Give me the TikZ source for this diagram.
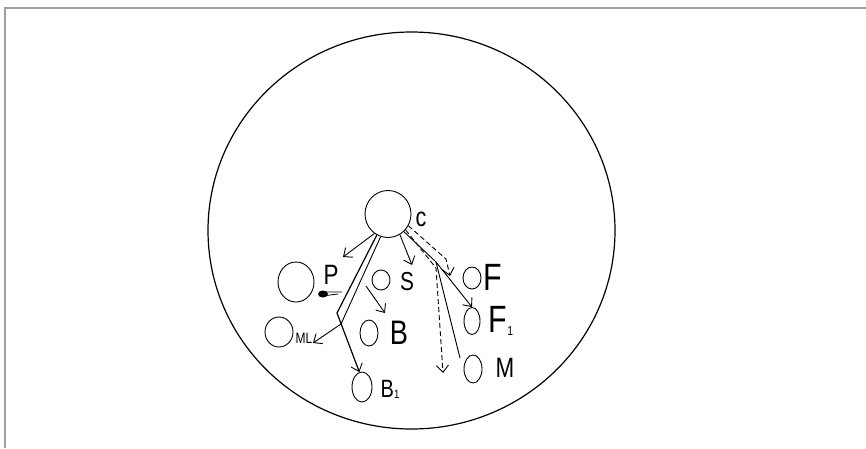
\documentclass[tikz,border=0pt]{standalone}
\usepackage{fontspec}
\setsansfont{Liberation Sans}
\usetikzlibrary{arrows.meta,shapes.geometric}
\tikzset{
  ent/.style={draw, ellipse, line width=0.9pt, inner sep=0pt},
  lab/.style={font=\sffamily, inner sep=0pt, anchor=center, xscale=0.8},
  arr/.style={line width=0.9pt, line join=round, -{Straight Barb[length=7pt,width=12pt,line width=0.9pt]}},
  darr/.style={arr, dashed, dash pattern=on 5pt off 3pt},
  plain/.style={line width=0.9pt},
}
\begin{document}
\begin{tikzpicture}[x=1pt,y=-1pt]
\useasboundingbox (0,0) rectangle (866,448);
% frame
\draw[gray!75, line width=1.3pt] (5,448) -- (5,8) -- (866,8);
% big ellipse
\node[draw, ellipse, line width=1.2pt, minimum width=407pt, minimum height=397pt, inner sep=0pt] (world) at (411.5,230.5) {};
% entities
\node[ent, minimum width=46pt, minimum height=47pt] (c) at (388,214) {};
\node[ent, minimum width=36pt, minimum height=40pt] (P) at (296,282) {};
\node[ent, minimum width=28pt, minimum height=30pt] (ML) at (279,332) {};
\node[ent, minimum width=18pt, minimum height=20pt] (S) at (381,280) {};
\node[ent, minimum width=18pt, minimum height=26pt] (B) at (369,333) {};
\node[ent, minimum width=20pt, minimum height=30pt] (B1) at (362,387) {};
\node[ent, minimum width=18pt, minimum height=22pt] (F) at (472,278) {};
\node[ent, minimum width=16pt, minimum height=27pt] (F1) at (472,321) {};
\node[ent, minimum width=18pt, minimum height=28pt] (M) at (473,369) {};
% labels
\node[lab, font=\sffamily\fontsize{27}{27}\selectfont] (lc) at (421,219) {c};
\node[lab, font=\sffamily\fontsize{28}{28}\selectfont] (lP) at (331,275) {P};
\node[lab, font=\sffamily\fontsize{26}{26}\selectfont] (lS) at (407,282) {S};
\node[lab, font=\sffamily\fontsize{38}{38}\selectfont] (lF) at (493,277) {F};
\node[lab, font=\sffamily\fontsize{34}{34}\selectfont] (lB) at (399,333) {B};
\node[lab, font=\sffamily\fontsize{38}{38}\selectfont] (lF1) at (501,321) {F\raisebox{-3pt}{\fontsize{13}{13}\selectfont 1}};
\node[lab, font=\sffamily\fontsize{28}{28}\selectfont] (lM) at (505,368) {M};
\node[lab, font=\sffamily\fontsize{25}{25}\selectfont] (lB1) at (390,389) {B\raisebox{-1pt}{\fontsize{12}{12}\selectfont 1}};
\node[lab, font=\sffamily\fontsize{15}{15}\selectfont] (lML) at (304,338) {ML};
% bend points
\coordinate (kB1) at (337,313);
\coordinate (kML) at (341,324);
\coordinate (eP) at (343,257);
\coordinate (eML) at (313,343);
\coordinate (sB) at (366,286);
\coordinate (eB) at (385,313);
\coordinate (eS) at (412,265);
\coordinate (kF) at (446,259);
\coordinate (eF) at (450,276);
\coordinate (kF1) at (436,262);
\coordinate (kM) at (436,268);
\coordinate (eMd) at (443,373);
\coordinate (eM) at (460,358);
% connectors
\draw[arr] (c.235) -- (eP);
\draw[arr, line width=1.2pt] (c.242) -- (kB1) -- (B1.100);
\draw[arr] (c.252) -- (kML) -- (eML);
\draw[arr] (sB) -- (eB);
\draw[arr] (c.300) -- (eS);
\draw[darr] (c.330) -- (kF) -- (eF);
\draw[arr] (c.312) -- (kF1) -- (F1.north);
\draw[darr] (c.318) -- (kM) -- (eMd);
\draw[plain] (kF1) -- (eM);
% smudge near P
\fill (323,294) ellipse (5pt and 3.5pt);
\draw[line width=0.8pt] (320,292) -- (342,292) (322,296) -- (338,294);
\end{tikzpicture}
\end{document}
